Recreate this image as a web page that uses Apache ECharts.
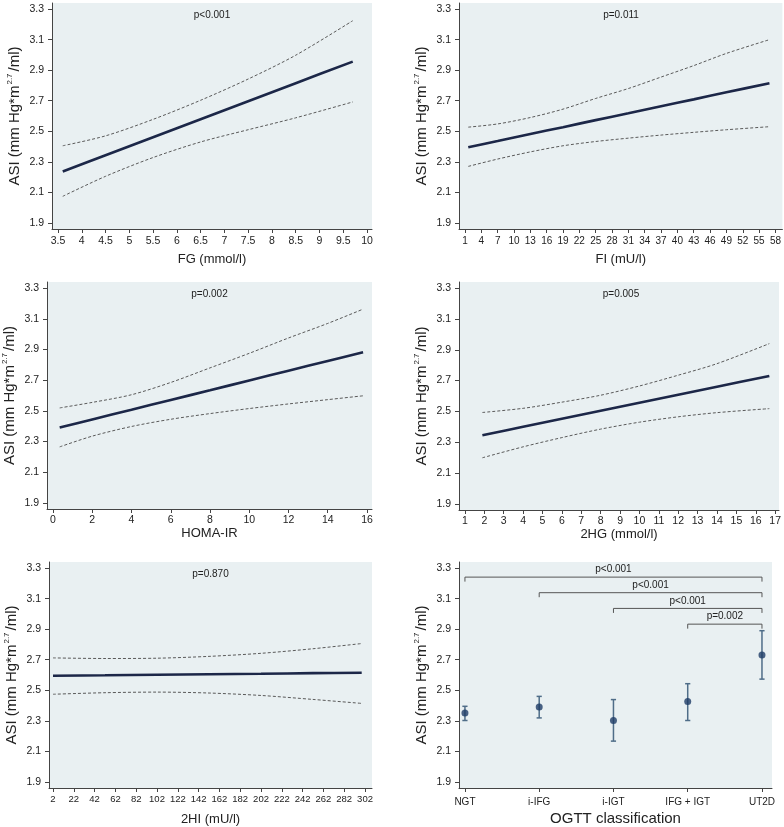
<!DOCTYPE html>
<html>
<head>
<meta charset="utf-8">
<script src="https://cdn.jsdelivr.net/npm/echarts@6/dist/echarts.min.js"></script>
<style>
html,body{margin:0;padding:0;background:#fff;}
#chart{width:784px;height:827px;}
</style>
</head>
<body>
<div id="chart"></div>
<script>
// ---------- data ----------
const yTicks = [1.9, 2.1, 2.3, 2.5, 2.7, 2.9, 3.1, 3.3];

// Panel 1: FG
const fgTicks = [3.5, 4, 4.5, 5, 5.5, 6, 6.5, 7, 7.5, 8, 8.5, 9, 9.5, 10];
const fgX     = [3.6, 4.5, 5.5, 6.5, 7.5, 8.5, 9.7];
const fgFit   = [2.237, 2.343, 2.461, 2.579, 2.697, 2.815, 2.956];
const fgUpper = [2.405, 2.470, 2.578, 2.703, 2.842, 2.998, 3.224];
const fgLower = [2.074, 2.205, 2.328, 2.430, 2.510, 2.588, 2.692];
const fgP = 'p<0.001';

// Panel 2: FI
const fiTicks = [1, 4, 7, 10, 13, 16, 19, 22, 25, 28, 31, 34, 37, 40, 43, 46, 49, 52, 55, 58];
const fiX     = [1.6, 7, 13, 19, 25, 31, 37, 43, 49, 56.9];
const fiFit   = [2.395, 2.436, 2.482, 2.527, 2.573, 2.618, 2.664, 2.709, 2.755, 2.815];
const fiUpper = [2.527, 2.548, 2.590, 2.645, 2.715, 2.780, 2.855, 2.930, 3.010, 3.100];
const fiLower = [2.270, 2.318, 2.365, 2.405, 2.433, 2.455, 2.475, 2.493, 2.510, 2.530];
const fiP = 'p=0.011';

// Panel 3: HOMA-IR
const homaTicks = [0, 2, 4, 6, 8, 10, 12, 14, 16];
const homaX     = [0.34, 2, 4, 6, 8, 10, 12, 14, 15.8];
const homaFit   = [2.391, 2.444, 2.507, 2.571, 2.634, 2.698, 2.762, 2.825, 2.882];
const homaUpper = [2.519, 2.555, 2.605, 2.685, 2.780, 2.875, 2.975, 3.070, 3.163];
const homaLower = [2.265, 2.335, 2.398, 2.445, 2.482, 2.515, 2.545, 2.573, 2.598];
const homaP = 'p=0.002';

// Panel 4: 2HG
const hgTicks = [1, 2, 3, 4, 5, 6, 7, 8, 9, 10, 11, 12, 13, 14, 15, 16, 17];
const hgX     = [1.9, 4, 6, 8, 10, 12, 14, 16.7];
const hgFit   = [2.345, 2.400, 2.452, 2.504, 2.556, 2.608, 2.660, 2.730];
const hgUpper = [2.493, 2.520, 2.560, 2.605, 2.665, 2.735, 2.810, 2.940];
const hgLower = [2.199, 2.270, 2.330, 2.385, 2.430, 2.465, 2.492, 2.518];
const hgP = 'p=0.005';

// Panel 5: 2HI
const hiTicks = [2, 22, 42, 62, 82, 102, 122, 142, 162, 182, 202, 222, 242, 262, 282, 302];
const hiX     = [2, 52, 102, 152, 202, 252, 298.8];
const hiFit   = [2.595, 2.598, 2.602, 2.605, 2.608, 2.612, 2.615];
const hiUpper = [2.712, 2.708, 2.710, 2.722, 2.742, 2.772, 2.806];
const hiLower = [2.474, 2.484, 2.488, 2.482, 2.466, 2.440, 2.414];
const hiP = 'p=0.870';

// Panel 6: OGTT classification
const groups  = ['NGT', 'i-IFG', 'i-IGT', 'IFG + IGT', 'UT2D'];
const means   = [2.351, 2.391, 2.302, 2.426, 2.731];
const ciLow   = [2.302, 2.319, 2.167, 2.302, 2.573];
const ciHigh  = [2.395, 2.460, 2.439, 2.543, 2.890];
const bracketFrom   = [0, 1, 2, 3];
const bracketTo     = [4, 4, 4, 4];
const bracketLevel  = [3.241, 3.139, 3.036, 2.933];
const bracketLabels = ['p<0.001', 'p<0.001', 'p<0.001', 'p=0.002'];

// ---------- styling / layout ----------
const FONT = '"Liberation Sans", Arial, sans-serif';
const TXT = '#222';
const AXIS = '#444';
const BG = '#e9f0f2';
const FIT = '#1c2748';
const CI = '#5a5a5a';

const panels = [
  {grid:{left:52, top:3, width:320, height:226}, xmin:3.374, xmax:10.105, ticks:fgTicks, title:'FG (mmol/l)', x:fgX, fit:fgFit, up:fgUpper, lo:fgLower, p:fgP, xfs:10.5, tfs:13, gap:24, lm:7},
  {grid:{left:459, top:3, width:324, height:226}, xmin:-0.1, xmax:59.28, ticks:fiTicks, title:'FI (mU/l)', x:fiX, fit:fiFit, up:fiUpper, lo:fiLower, p:fiP, xfs:10, tfs:13, gap:24, lm:7},
  {grid:{left:47, top:282, width:325, height:227}, xmin:-0.306, xmax:16.255, ticks:homaTicks, title:'HOMA-IR', x:homaX, fit:homaFit, up:homaUpper, lo:homaLower, p:homaP, xfs:10.5, tfs:13, gap:17, lm:6},
  {grid:{left:459, top:282, width:324, height:228}, xmin:0.694, xmax:17.2, ticks:hgTicks, title:'2HG (mmol/l)', x:hgX, fit:hgFit, up:hgUpper, lo:hgLower, p:hgP, xfs:10.5, tfs:13, gap:17, lm:6},
  {grid:{left:49, top:562, width:323, height:228}, xmin:-1.85, xmax:308.7, ticks:hiTicks, title:'2HI (mU/l)', x:hiX, fit:hiFit, up:hiUpper, lo:hiLower, p:hiP, xfs:9.5, tfs:13, gap:25, lm:6},
  {grid:{left:459, top:562, width:313, height:227}, xmin:-0.08, xmax:4.135, ticks:[0,1,2,3,4], title:'OGTT classification', cat:true, xfs:10, tfs:15, gap:23, lm:9}
];

const grids = [], xAxes = [], yAxes = [], series = [], graphics = [];
const zip = (a, b) => a.map((v, i) => [v, b[i]]);

panels.forEach((p, i) => {
  grids.push(Object.assign({show:true, backgroundColor:BG, borderWidth:0}, p.grid));
  xAxes.push({
    type:'value', gridIndex:i, min:p.xmin, max:p.xmax,
    name:p.title, nameLocation:'middle', nameGap:p.gap,
    nameTextStyle:{fontFamily:FONT, fontSize:p.tfs, color:TXT},
    axisLine:{show:true, onZero:false, lineStyle:{color:AXIS, width:1}},
    axisTick:{show:true, length:4, customValues:p.ticks, lineStyle:{color:AXIS}},
    axisLabel:{customValues:p.ticks, margin:p.lm, fontFamily:FONT, fontSize:p.xfs, color:TXT,
      formatter: p.cat ? (v => groups[Math.round(v)]) : (v => String(v))},
    splitLine:{show:false}
  });
  yAxes.push({
    type:'value', gridIndex:i, min:1.86, max:3.34,
    name:'{a|ASI (mm Hg*m}{s|2.7}{a|/ml)}', nameLocation:'middle', nameRotate:90, nameGap:28,
    nameTextStyle:{rich:{
      a:{fontFamily:FONT, fontSize:15, color:TXT, lineHeight:18},
      s:{fontFamily:FONT, fontSize:8, color:TXT, verticalAlign:'top', lineHeight:18, padding:[0,2,0,1]}
    }},
    axisLine:{show:true, onZero:false, lineStyle:{color:AXIS, width:1}},
    axisTick:{show:true, length:4, customValues:yTicks, lineStyle:{color:AXIS}},
    axisLabel:{customValues:yTicks, margin:8, fontFamily:FONT, fontSize:10.5, color:TXT,
      formatter: v => v.toFixed(1)},
    splitLine:{show:false}
  });
  if (!p.cat) {
    const base = {type:'line', xAxisIndex:i, yAxisIndex:i, showSymbol:false, symbol:'none', smooth:0.3, silent:true, animation:false};
    series.push(Object.assign({}, base, {data:zip(p.x, p.up), lineStyle:{color:CI, width:1, type:[3,2]}}));
    series.push(Object.assign({}, base, {data:zip(p.x, p.lo), lineStyle:{color:CI, width:1, type:[3,2]}}));
    series.push(Object.assign({}, base, {data:zip(p.x, p.fit), lineStyle:{color:FIT, width:2.6}}));
    graphics.push({type:'text', x:p.grid.left + p.grid.width/2, y:p.grid.top + 12,
      style:{text:p.p, font:'10px ' + FONT, fill:TXT, textAlign:'center', textVerticalAlign:'middle'}});
  }
});

// Panel 6 series
const gi = 5;
series.push({
  type:'custom', xAxisIndex:gi, yAxisIndex:gi, animation:false, silent:true,
  data: groups.map((g, i) => [i, ciLow[i], ciHigh[i]]),
  renderItem: (params, api) => {
    const lo = api.coord([api.value(0), api.value(1)]);
    const hi = api.coord([api.value(0), api.value(2)]);
    const c = 2.6;
    const st = {stroke:'#4f6d88', lineWidth:1.5, fill:null};
    return {type:'group', children:[
      {type:'line', shape:{x1:lo[0], y1:lo[1], x2:hi[0], y2:hi[1]}, style:st},
      {type:'line', shape:{x1:lo[0]-c, y1:lo[1], x2:lo[0]+c, y2:lo[1]}, style:st},
      {type:'line', shape:{x1:hi[0]-c, y1:hi[1], x2:hi[0]+c, y2:hi[1]}, style:st}
    ]};
  }
});
series.push({
  type:'scatter', xAxisIndex:gi, yAxisIndex:gi, animation:false, silent:true,
  symbol:'circle', symbolSize:7, itemStyle:{color:'#1e3c66'},
  data: means.map((m, i) => [i, m])
});
series.push({
  type:'custom', xAxisIndex:gi, yAxisIndex:gi, animation:false, silent:true,
  data: bracketFrom.map((f, i) => [f, bracketTo[i], bracketLevel[i], i]),
  renderItem: (params, api) => {
    const a = api.coord([api.value(0), api.value(2)]);
    const b = api.coord([api.value(1), api.value(2)]);
    const idx = api.value(3);
    return {type:'group', children:[
      {type:'polyline', shape:{points:[[a[0], a[1]+4.5], [a[0], a[1]], [b[0], b[1]], [b[0], b[1]+4.5]]},
        style:{stroke:'#555', lineWidth:1, fill:null}},
      {type:'text', x:(a[0]+b[0])/2, y:a[1]-7.5,
        style:{text:bracketLabels[idx], font:'10px ' + FONT, fill:TXT, textAlign:'center', textVerticalAlign:'middle'}}
    ]};
  }
});

const chart = echarts.init(document.getElementById('chart'), null, {renderer:'canvas'});
chart.setOption({
  animation:false,
  backgroundColor:'#ffffff',
  grid:grids, xAxis:xAxes, yAxis:yAxes, series:series,
  graphic:{elements:graphics}
});
</script>
</body>
</html>
